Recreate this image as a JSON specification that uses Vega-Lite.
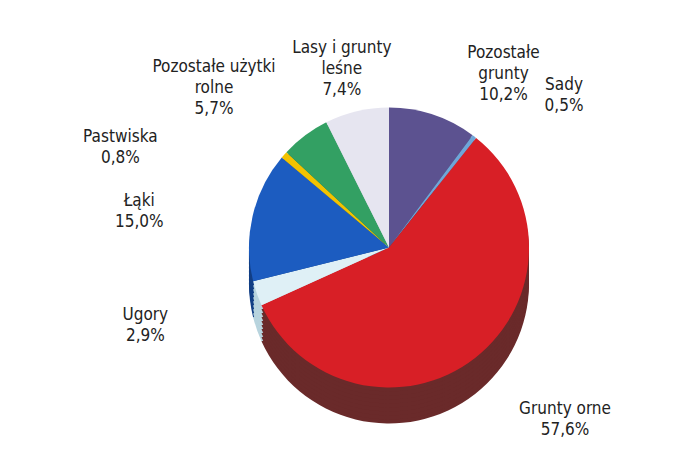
{
  "$schema": "https://vega.github.io/schema/vega-lite/v6.json",
  "autosize": {"type": "fit", "contains": "padding"},
  "width": 698,
  "height": 449,
  "padding": {"left": 80, "top": 46, "right": 0, "bottom": 4},
  "background": "white",
  "config": {"view": {"stroke": null}},
  "data": {
    "values": [
      {"name": "Pozostałe grunty", "value": 10.2, "order": 1, "label": "Pozostałe\ngrunty\n10,2%"},
      {"name": "Sady", "value": 0.5, "order": 2, "label": "Sady\n0,5%"},
      {"name": "Grunty orne", "value": 57.6, "order": 3, "label": "Grunty orne\n57,6%"},
      {"name": "Ugory", "value": 2.9, "order": 4, "label": "Ugory\n2,9%"},
      {"name": "Łąki", "value": 15.0, "order": 5, "label": "Łąki\n15,0%"},
      {"name": "Pastwiska", "value": 0.8, "order": 6, "label": "Pastwiska\n0,8%"},
      {"name": "Pozostałe użytki rolne", "value": 5.7, "order": 7, "label": "Pozostałe użytki\nrolne\n5,7%"},
      {"name": "Lasy i grunty leśne", "value": 7.4, "order": 8, "label": "Lasy i grunty\nleśne\n7,4%"}
    ]
  },
  "encoding": {
    "theta": {"field": "value", "type": "quantitative", "stack": true},
    "order": {"field": "order", "type": "quantitative"}
  },
  "layer": [
    {
      "mark": {"type": "arc", "radius": 140, "yOffset": 36},
      "encoding": {"fill": {"field": "name", "type": "nominal", "legend": null,
        "scale": {"domain": ["Pozostałe grunty", "Sady", "Grunty orne", "Ugory", "Łąki", "Pastwiska", "Pozostałe użytki rolne", "Lasy i grunty leśne"],
                  "range": ["#3b3360", "#4a7fae", "#6a2a2a", "#b8d4de", "#123f85", "#b08c00", "#1d6a3c", "#b8b8c8"]}}}
    },
    {"mark": {"type": "arc", "radius": 140, "yOffset": 32}, "encoding": {"fill": {"field": "name", "type": "nominal", "legend": null}}},
    {"mark": {"type": "arc", "radius": 140, "yOffset": 28}, "encoding": {"fill": {"field": "name", "type": "nominal", "legend": null}}},
    {"mark": {"type": "arc", "radius": 140, "yOffset": 24}, "encoding": {"fill": {"field": "name", "type": "nominal", "legend": null}}},
    {"mark": {"type": "arc", "radius": 140, "yOffset": 20}, "encoding": {"fill": {"field": "name", "type": "nominal", "legend": null}}},
    {"mark": {"type": "arc", "radius": 140, "yOffset": 16}, "encoding": {"fill": {"field": "name", "type": "nominal", "legend": null}}},
    {"mark": {"type": "arc", "radius": 140, "yOffset": 12}, "encoding": {"fill": {"field": "name", "type": "nominal", "legend": null}}},
    {"mark": {"type": "arc", "radius": 140, "yOffset": 8}, "encoding": {"fill": {"field": "name", "type": "nominal", "legend": null}}},
    {"mark": {"type": "arc", "radius": 140, "yOffset": 4}, "encoding": {"fill": {"field": "name", "type": "nominal", "legend": null}}},
    {
      "mark": {"type": "arc", "radius": 140},
      "encoding": {"color": {"field": "name", "type": "nominal", "legend": null,
        "scale": {"domain": ["Pozostałe grunty", "Sady", "Grunty orne", "Ugory", "Łąki", "Pastwiska", "Pozostałe użytki rolne", "Lasy i grunty leśne"],
                  "range": ["#5c5290", "#6fa6d8", "#d81f26", "#dff0f6", "#1c5cc0", "#f2c200", "#33a063", "#e6e5f0"]}}}
    },
    {
      "mark": {"type": "text", "radius": 205, "dx": 50, "font": "DejaVu Sans Condensed", "fontSize": 17, "color": "#222222", "lineBreak": "\n", "lineHeight": 21},
      "encoding": {"text": {"condition": {"test": "indexof(['Pozostałe grunty','Sady','Grunty orne'], datum.name) >= 0", "field": "label"}, "value": ""}}
    },
    {
      "mark": {"type": "text", "radius": 205, "dx": -50, "font": "DejaVu Sans Condensed", "fontSize": 17, "color": "#222222", "lineBreak": "\n", "lineHeight": 21},
      "encoding": {"text": {"condition": {"test": "indexof(['Ugory','Łąki'], datum.name) >= 0", "field": "label"}, "value": ""}}
    },
    {
      "mark": {"type": "text", "radius": 205, "dx": -115, "dy": 25, "font": "DejaVu Sans Condensed", "fontSize": 17, "color": "#222222", "lineBreak": "\n", "lineHeight": 21},
      "encoding": {"text": {"condition": {"test": "datum.name === 'Pastwiska'", "field": "label"}, "value": ""}}
    },
    {
      "mark": {"type": "text", "radius": 225, "dx": -40, "font": "DejaVu Sans Condensed", "fontSize": 17, "color": "#222222", "lineBreak": "\n", "lineHeight": 21},
      "encoding": {"text": {"condition": {"test": "datum.name === 'Pozostałe użytki rolne'", "field": "label"}, "value": ""}}
    },
    {
      "mark": {"type": "text", "radius": 205, "font": "DejaVu Sans Condensed", "fontSize": 17, "color": "#222222", "lineBreak": "\n", "lineHeight": 21},
      "encoding": {"text": {"condition": {"test": "datum.name === 'Lasy i grunty leśne'", "field": "label"}, "value": ""}}
    }
  ]
}
